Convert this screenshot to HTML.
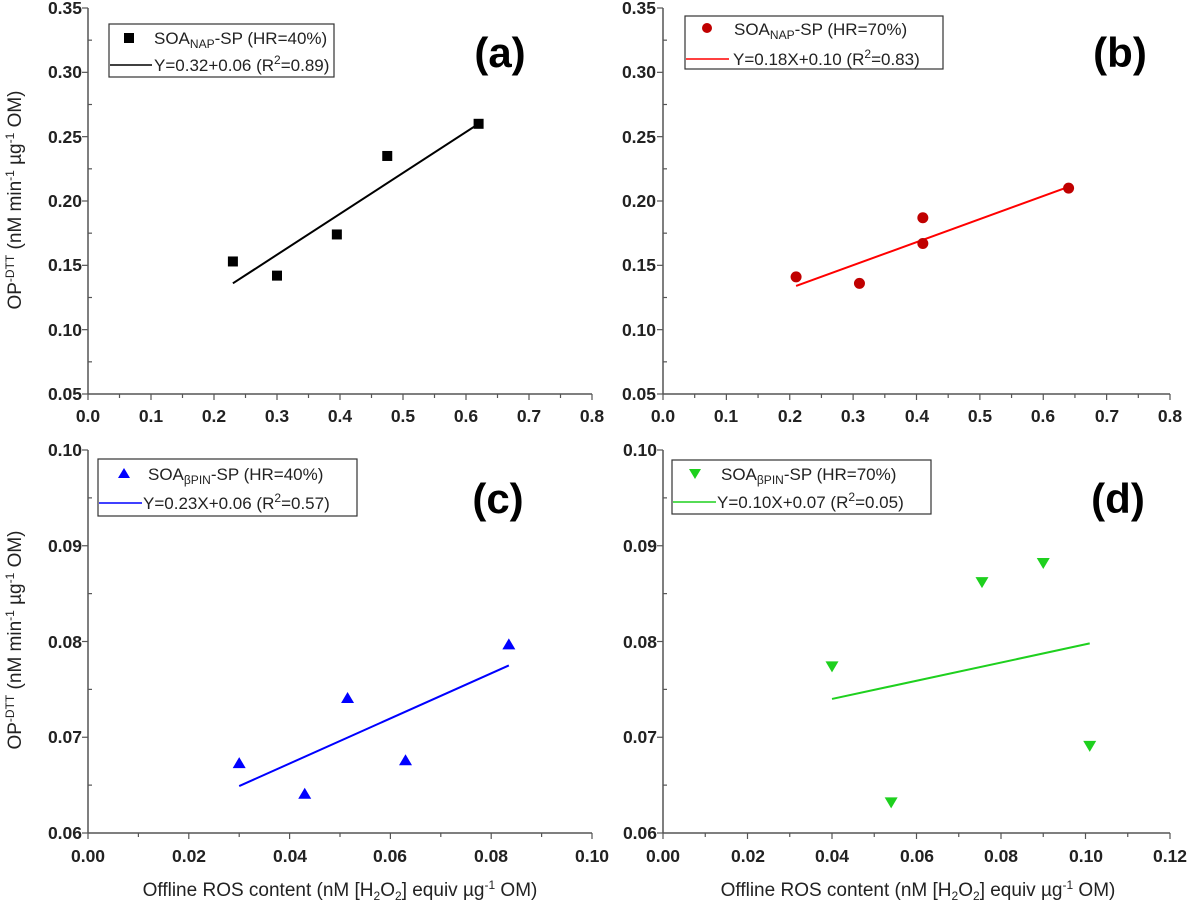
<!DOCTYPE html>
<html><head><meta charset="utf-8"><style>
html,body{margin:0;padding:0;background:#fff;}
svg{display:block;font-family:"Liberation Sans",Arial,sans-serif;}
.t{font-size:17.5px;font-weight:bold;fill:#222;}
.lg{font-size:17px;fill:#222;}
.pl{font-size:42px;font-weight:bold;fill:#000;font-family:"Liberation Sans Narrow","Liberation Sans",sans-serif;}
.ax{font-size:19px;fill:#222;}
</style></head><body>
<svg id="s" width="1190" height="904" viewBox="0 0 1190 904">
<g id="g"></g>
<g class="t" text-anchor="end">
<text x="82" y="14">0.35</text><text x="82" y="78">0.30</text><text x="82" y="143">0.25</text><text x="82" y="207">0.20</text><text x="82" y="271">0.15</text><text x="82" y="336">0.10</text><text x="82" y="400">0.05</text>
<text x="656" y="14">0.35</text><text x="656" y="78">0.30</text><text x="656" y="143">0.25</text><text x="656" y="207">0.20</text><text x="656" y="271">0.15</text><text x="656" y="336">0.10</text><text x="656" y="400">0.05</text>
<text x="82" y="456">0.10</text><text x="82" y="552">0.09</text><text x="82" y="648">0.08</text><text x="82" y="743">0.07</text><text x="82" y="839">0.06</text>
<text x="657" y="456">0.10</text><text x="657" y="552">0.09</text><text x="657" y="648">0.08</text><text x="657" y="743">0.07</text><text x="657" y="839">0.06</text>
</g>
<g class="t" text-anchor="middle">
<text x="88" y="422">0.0</text><text x="151" y="422">0.1</text><text x="214" y="422">0.2</text><text x="277" y="422">0.3</text><text x="340" y="422">0.4</text><text x="403" y="422">0.5</text><text x="466" y="422">0.6</text><text x="529" y="422">0.7</text><text x="592" y="422">0.8</text>
<text x="663" y="422">0.0</text><text x="726" y="422">0.1</text><text x="790" y="422">0.2</text><text x="853" y="422">0.3</text><text x="917" y="422">0.4</text><text x="980" y="422">0.5</text><text x="1043" y="422">0.6</text><text x="1107" y="422">0.7</text><text x="1170" y="422">0.8</text>
<text x="88" y="862">0.00</text><text x="189" y="862">0.02</text><text x="290" y="862">0.04</text><text x="390" y="862">0.06</text><text x="491" y="862">0.08</text><text x="592" y="862">0.10</text>
<text x="663" y="862">0.00</text><text x="748" y="862">0.02</text><text x="832" y="862">0.04</text><text x="917" y="862">0.06</text><text x="1001" y="862">0.08</text><text x="1086" y="862">0.10</text><text x="1170" y="862">0.12</text>
</g>
<text class="ax" transform="translate(21,200) rotate(-90)" text-anchor="middle">OP<tspan dy="-7" font-size="12">-DTT</tspan><tspan dy="7"> (nM min</tspan><tspan dy="-7" font-size="12">-1</tspan><tspan dy="7"> µg</tspan><tspan dy="-7" font-size="12">-1</tspan><tspan dy="7"> OM)</tspan></text>
<text class="ax" transform="translate(21,640) rotate(-90)" text-anchor="middle">OP<tspan dy="-7" font-size="12">-DTT</tspan><tspan dy="7"> (nM min</tspan><tspan dy="-7" font-size="12">-1</tspan><tspan dy="7"> µg</tspan><tspan dy="-7" font-size="12">-1</tspan><tspan dy="7"> OM)</tspan></text>
<text class="ax" x="340" y="896" text-anchor="middle">Offline ROS content (nM [H<tspan dy="4" font-size="12">2</tspan><tspan dy="-4">O</tspan><tspan dy="4" font-size="12">2</tspan><tspan dy="-4">] equiv µg</tspan><tspan dy="-7" font-size="12">-1</tspan><tspan dy="7"> OM)</tspan></text>
<text class="ax" x="918" y="896" text-anchor="middle">Offline ROS content (nM [H<tspan dy="4" font-size="12">2</tspan><tspan dy="-4">O</tspan><tspan dy="4" font-size="12">2</tspan><tspan dy="-4">] equiv µg</tspan><tspan dy="-7" font-size="12">-1</tspan><tspan dy="7"> OM)</tspan></text>
<text class="pl" x="500" y="67" text-anchor="middle">(a)</text>
<text class="pl" x="1120" y="67" text-anchor="middle">(b)</text>
<text class="pl" x="498" y="513" text-anchor="middle">(c)</text>
<text class="pl" x="1118" y="513" text-anchor="middle">(d)</text>
<rect x="109" y="24" width="225" height="53" fill="#fff" stroke="#333" stroke-width="1.2"/>
<rect x="124" y="33" width="10" height="10" fill="#000"/>
<text class="lg" x="154" y="44">SOA<tspan dy="4" font-size="12">NAP</tspan><tspan dy="-4">-SP (HR=40%)</tspan></text>
<line x1="110" y1="65" x2="152" y2="65" stroke="#000" stroke-width="1.5"/>
<text class="lg" x="154" y="71">Y=0.32+0.06 (R<tspan dy="-7" font-size="12">2</tspan><tspan dy="7">=0.89)</tspan></text>

<rect x="685" y="16" width="258" height="53" fill="#fff" stroke="#333" stroke-width="1.2"/>
<circle cx="707" cy="28" r="5" fill="#c00000"/>
<text class="lg" x="734" y="35">SOA<tspan dy="4" font-size="12">NAP</tspan><tspan dy="-4">-SP (HR=70%)</tspan></text>
<line x1="686" y1="59" x2="729" y2="59" stroke="#f00" stroke-width="1.5"/>
<text class="lg" x="733" y="65">Y=0.18X+0.10 (R<tspan dy="-7" font-size="12">2</tspan><tspan dy="7">=0.83)</tspan></text>

<rect x="98" y="459" width="259" height="57" fill="#fff" stroke="#333" stroke-width="1.2"/>
<polygon points="124,468 118,478 130,478" fill="#00f"/>
<text class="lg" x="148" y="480">SOA<tspan dy="4" font-size="12">βPIN</tspan><tspan dy="-4">-SP (HR=40%)</tspan></text>
<line x1="99" y1="503" x2="142" y2="503" stroke="#00f" stroke-width="1.5"/>
<text class="lg" x="143" y="509">Y=0.23X+0.06 (R<tspan dy="-7" font-size="12">2</tspan><tspan dy="7">=0.57)</tspan></text>

<rect x="672" y="460" width="259" height="54" fill="#fff" stroke="#333" stroke-width="1.2"/>
<polygon points="689,469 701,469 695,479" fill="#1ed01e"/>
<text class="lg" x="721" y="480">SOA<tspan dy="4" font-size="12">βPIN</tspan><tspan dy="-4">-SP (HR=70%)</tspan></text>
<line x1="673" y1="502" x2="716" y2="502" stroke="#1ed01e" stroke-width="1.5"/>
<text class="lg" x="717" y="508">Y=0.10X+0.07 (R<tspan dy="-7" font-size="12">2</tspan><tspan dy="7">=0.05)</tspan></text>
</svg>
<script>
var g=document.getElementById('g'),NS='http://www.w3.org/2000/svg';
function el(t,a){var e=document.createElementNS(NS,t);for(var k in a)e.setAttribute(k,a[k]);g.appendChild(e);return e;}
function panel(x0,x1,y0,y1,xmin,xmax,xstep,ymin,ymax,ystep,pts,line,col,mk){
 var c='#555';
 el('line',{x1:x0,y1:y0,x2:x0,y2:y1,stroke:c,'stroke-width':1.5});
 el('line',{x1:x0,y1:y0,x2:x1,y2:y0,stroke:c,'stroke-width':1.5});
 var nx=Math.round((xmax-xmin)/xstep);
 for(var i=0;i<=nx*2;i++){var x=x0+(x1-x0)*i/(nx*2);el('line',{x1:x,y1:y0,x2:x,y2:y0+(i%2?4:6),stroke:c,'stroke-width':1.2});}
 var ny=Math.round((ymax-ymin)/ystep);
 for(var i=0;i<=ny*2;i++){var y=y0+(y1-y0)*i/(ny*2);el('line',{x1:x0,y1:y,x2:x0-(i%2?-4:6),y2:y,stroke:c,'stroke-width':1.2});}
 function X(v){return x0+(v-xmin)/(xmax-xmin)*(x1-x0);}
 function Y(v){return y0+(v-ymin)/(ymax-ymin)*(y1-y0);}
 el('line',{x1:X(line[0]),y1:Y(line[1]),x2:X(line[2]),y2:Y(line[3]),stroke:col,'stroke-width':2});
 pts.forEach(function(p){var x=X(p[0]),y=Y(p[1]);
  if(mk=='s')el('rect',{x:x-5,y:y-5,width:10,height:10,fill:col});
  else if(mk=='c')el('circle',{cx:x,cy:y,r:5.5,fill:'#c00000'});
  else if(mk=='u')el('polygon',{points:(x)+','+(y-6)+' '+(x-6.5)+','+(y+5)+' '+(x+6.5)+','+(y+5),fill:col});
  else el('polygon',{points:(x)+','+(y+6)+' '+(x-6.5)+','+(y-5)+' '+(x+6.5)+','+(y-5),fill:col});
 });
}
panel(88,592,394,8,0,0.8,0.1,0.05,0.35,0.05,[[0.23,0.153],[0.30,0.142],[0.395,0.174],[0.475,0.235],[0.62,0.26]],[0.23,0.136,0.62,0.26],'#000','s');
panel(663,1170,394,8,0,0.8,0.1,0.05,0.35,0.05,[[0.21,0.141],[0.31,0.136],[0.41,0.187],[0.41,0.167],[0.64,0.21]],[0.21,0.134,0.64,0.211],'#f00','c');
panel(88,592,833,450,0,0.10,0.02,0.06,0.10,0.01,[[0.030,0.0673],[0.043,0.0641],[0.0515,0.0741],[0.063,0.0676],[0.0835,0.0797]],[0.030,0.0649,0.0835,0.0775],'#00f','u');
panel(663,1170,833,450,0,0.12,0.02,0.06,0.10,0.01,[[0.040,0.0774],[0.054,0.0632],[0.0755,0.0862],[0.090,0.0882],[0.101,0.0691]],[0.040,0.0740,0.101,0.0798],'#1ed01e','d');
</script>
</body></html>
